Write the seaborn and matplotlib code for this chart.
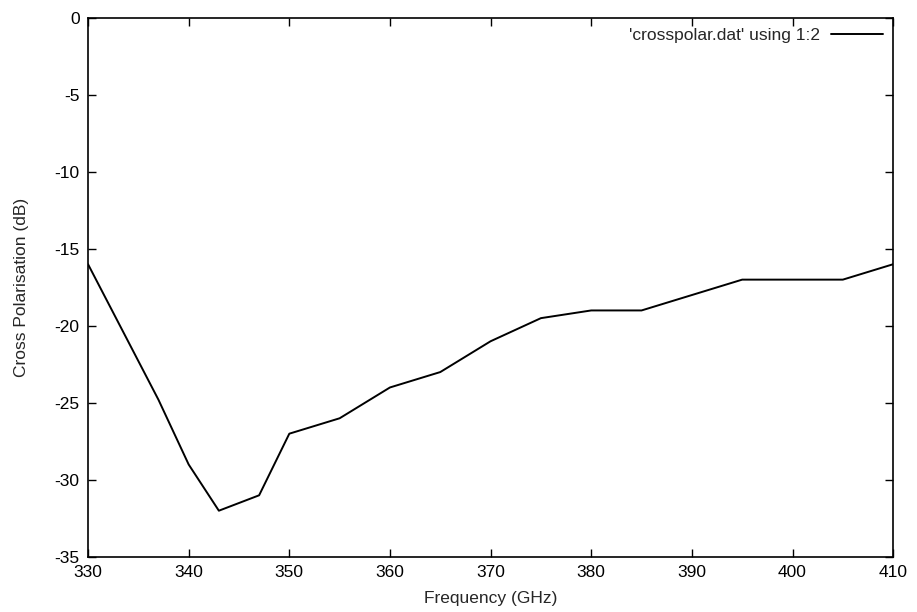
import pandas as pd
import matplotlib
matplotlib.use("Agg")
import matplotlib.pyplot as plt
import seaborn as sns

freq = [330, 337, 340, 343, 347, 350, 355, 360, 365, 370, 375, 380, 385, 395, 405, 410]
xpol = [-16, -24.8, -29, -32, -31, -27, -26, -24, -23, -21, -19.5, -19, -19, -17, -17, -16]

data = pd.DataFrame({'freq': freq, 'xpol': xpol})

sns.set_style("ticks")
plt.rcParams['font.family'] = ['Liberation Sans', 'DejaVu Sans']
plt.rcParams['axes.unicode_minus'] = False

fig = plt.figure(figsize=(9.17, 6.12), dpi=100)
ax = fig.add_axes([0.096, 0.090, 0.878, 0.881])

sns.lineplot(data=data, x='freq', y='xpol', color='black', linewidth=1.4,
             label="'crosspolar.dat' using 1:2", ax=ax)

ax.set_xlim(330, 410)
ax.set_ylim(-35, 0)
ax.set_xticks(range(330, 411, 10))
ax.set_yticks(range(-35, 1, 5))
ax.tick_params(direction='in', top=True, right=True, length=6, width=1, labelsize=12.5, colors='black')
ax.tick_params(axis='x', pad=6)
ax.tick_params(axis='y', pad=6)
for s in ax.spines.values():
    s.set_color('black')
    s.set_linewidth(1.2)

ax.set_xlabel('Frequency (GHz)', fontsize=12.5, labelpad=8)
ax.set_ylabel('Cross Polarisation (dB)', fontsize=12.5, labelpad=18)

ax.legend(loc='upper right', frameon=False, markerfirst=False, fontsize=12.5,
          handlelength=3.0, borderaxespad=0.2, handletextpad=0.6)

fig.savefig('out.png', dpi=100)
